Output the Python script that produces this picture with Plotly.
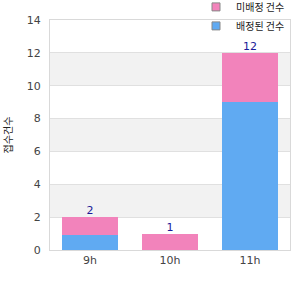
import plotly.graph_objects as go

categories = ["9h", "10h", "11h"]
done_vals = [0.9, 0, 9]
pending_vals = [1.1, 1, 3]
totals = [2, 1, 12]
pending_name = "미배정 건수"
done_name = "배정된 건수"
y_title = "접수건수"
y_ticks = [0, 2, 4, 6, 8, 10, 12, 14]

pink = "#F283BB"
blue = "#60AAF2"

fig = go.Figure()
fig.add_trace(go.Bar(x=categories, y=done_vals, marker=dict(color=blue, line=dict(width=0)),
                     showlegend=False, hoverinfo="skip"))
fig.add_trace(go.Bar(x=categories, y=pending_vals, marker=dict(color=pink, line=dict(width=0)),
                     showlegend=False, hoverinfo="skip"))
fig.add_trace(go.Scatter(x=categories, y=totals, mode="text", text=[str(t) for t in totals],
                         textposition="top center", textfont=dict(color="#1a1a99", size=11, family="DejaVu Sans"),
                         showlegend=False, hoverinfo="skip"))
# legend entries
for name, col in [(pending_name, pink), (done_name, blue)]:
    fig.add_trace(go.Scatter(x=[None], y=[None], mode="markers", name=name,
                             marker=dict(symbol="square", size=8, color=col,
                                         line=dict(color="#888888", width=1))))

# alternating bands
for i in range(len(y_ticks) - 1):
    if i % 2 == 1:
        fig.add_shape(type="rect", xref="paper", yref="y", x0=0, x1=1,
                      y0=y_ticks[i], y1=y_ticks[i + 1], fillcolor="#F2F2F2",
                      line=dict(width=0), layer="below")

fig.update_layout(
    width=300, height=300,
    margin=dict(l=50, r=10, t=20, b=50, autoexpand=False),
    barmode="stack", bargap=0.29,
    plot_bgcolor="white", paper_bgcolor="white",
    font=dict(family="Noto Sans CJK KR, DejaVu Sans", size=11, color="#444444"),
    legend=dict(x=1.0, xanchor="right", y=1.12, yanchor="top", traceorder="normal",
                font=dict(size=10, color="#222222"), bgcolor="rgba(0,0,0,0)",
                tracegroupgap=0, itemwidth=30),
    xaxis=dict(showgrid=False, showline=True, linecolor="#D9D9D9", linewidth=1, mirror=True,
               ticks="", tickfont=dict(family="DejaVu Sans", size=11, color="#444444")),
    yaxis=dict(range=[0, 14], tickvals=y_ticks, showgrid=True, gridcolor="#E0E0E0",
               showline=True, linecolor="#D9D9D9", linewidth=1, mirror=True, zeroline=False,
               ticks="", ticklabelstandoff=6,
               tickfont=dict(family="DejaVu Sans", size=11, color="#444444"),
               title=dict(text=y_title, font=dict(size=10, color="#222222"), standoff=18)),
)

fig.write_html("out.html")
